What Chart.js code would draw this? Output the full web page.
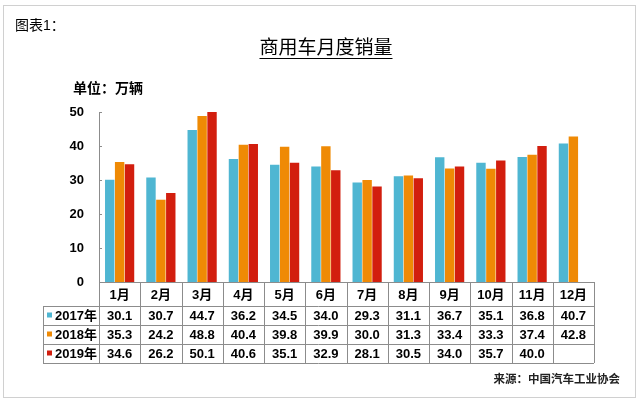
<!DOCTYPE html>
<html>
<head>
<meta charset="utf-8">
<title>商用车月度销量</title>
<script src="https://cdn.jsdelivr.net/npm/chart.js@4.4.1/dist/chart.umd.min.js"></script>
<style>
  body { margin: 0; background: #fff; }
  canvas { display: block; }
</style>
</head>
<body>
<canvas id="chart" width="640" height="403"></canvas>
<script>
// 数据
const categories = ["1月", "2月", "3月", "4月", "5月", "6月", "7月", "8月", "9月", "10月", "11月", "12月"];
const seriesNames = ["2017年", "2018年", "2019年"];
const sales2017 = [30.1, 30.7, 44.7, 36.2, 34.5, 34.0, 29.3, 31.1, 36.7, 35.1, 36.8, 40.7];
const sales2018 = [35.3, 24.2, 48.8, 40.4, 39.8, 39.9, 30.0, 31.3, 33.4, 33.3, 37.4, 42.8];
const sales2019 = [34.6, 26.2, 50.1, 40.6, 35.1, 32.9, 28.1, 30.5, 34.0, 35.7, 40.0, null];
const yTicks = [0, 10, 20, 30, 40, 50];

const colors = ["#4fb6d2", "#ef8a05", "#d21e0e"];
const FONT = "Arial, 'Liberation Sans', 'Noto Sans CJK SC', sans-serif";
const lineColor = "#8c8c8c";

// 画标题、表格等
const tablePlugin = {
  id: "tablePlugin",
  afterDraw(chart) {
    const ctx = chart.ctx;
    const area = chart.chartArea;
    const x = chart.scales.x;
    const y = chart.scales.y;
    const all = [sales2017, sales2018, sales2019];

    ctx.save();
    // 外框
    ctx.strokeStyle = "#d0d0d0";
    ctx.lineWidth = 1;
    ctx.strokeRect(3.5, 5.5, 632, 392);

    ctx.fillStyle = "#000";
    ctx.textBaseline = "middle";
    ctx.textAlign = "left";
    ctx.font = "14px " + FONT;
    ctx.fillText("图表1：", 15, 26);

    ctx.font = "19px " + FONT;
    ctx.textAlign = "center";
    const title = "商用车月度销量";
    ctx.fillText(title, 326, 49);
    const tw = ctx.measureText(title).width;
    ctx.fillRect(326 - tw / 2, 58, tw, 1);

    ctx.textAlign = "left";
    ctx.font = "bold 14px " + FONT;
    ctx.fillText("单位：万辆", 73, 89);

    ctx.font = "bold 11.5px " + FONT;
    ctx.fillStyle = "#222";
    ctx.textAlign = "right";
    ctx.fillText("来源：中国汽车工业协会", 620, 380);
    ctx.fillStyle = "#000";

    // y轴小刻度
    ctx.strokeStyle = lineColor;
    ctx.beginPath();
    yTicks.forEach(v => {
      const py = Math.round(y.getPixelForValue(v)) + 0.5;
      ctx.moveTo(area.left, py);
      ctx.lineTo(area.left + 3, py);
    });
    ctx.stroke();

    // 表格
    const top = area.bottom;
    const headH = 24;
    const rowH = 19;
    const tableLeft = 43;
    const bottom = top + headH + rowH * 3;
    const catW = (area.right - area.left) / categories.length;

    ctx.beginPath();
    // 横线
    const hl = (py, x0) => { ctx.moveTo(x0, Math.round(py) + 0.5); ctx.lineTo(area.right, Math.round(py) + 0.5); };
    hl(top, area.left);
    for (let r = 0; r <= 3; r++) hl(top + headH + rowH * r, tableLeft);
    // 竖线
    const vl = (px, y0) => { ctx.moveTo(Math.round(px) + 0.5, y0); ctx.lineTo(Math.round(px) + 0.5, bottom); };
    vl(tableLeft, top + headH);
    for (let i = 0; i <= categories.length; i++) vl(area.left + catW * i, top);
    ctx.stroke();

    ctx.textAlign = "center";
    ctx.font = "bold 13px " + FONT;
    ctx.fillStyle = "#000";
    categories.forEach((c, i) => {
      const cx = x.getPixelForValue(i);
      ctx.fillText(c, cx, top + headH / 2 + 1);
      all.forEach((arr, r) => {
        const v = arr[i];
        if (v !== null && v !== undefined) {
          ctx.fillText(v.toFixed(1), cx, top + headH + rowH * r + rowH / 2 + 1);
        }
      });
    });

    // 图例
    seriesNames.forEach((n, r) => {
      const cy = top + headH + rowH * r + rowH / 2;
      ctx.fillStyle = colors[r];
      ctx.fillRect(47, cy - 3, 5, 5);
      ctx.fillStyle = "#000";
      ctx.textAlign = "left";
      ctx.fillText(n, 55, cy + 1);
    });
    ctx.restore();
  }
};

new Chart(document.getElementById("chart"), {
  type: "bar",
  data: {
    labels: categories,
    datasets: [
      { label: seriesNames[0], data: sales2017, backgroundColor: colors[0] },
      { label: seriesNames[1], data: sales2018, backgroundColor: colors[1] },
      { label: seriesNames[2], data: sales2019, backgroundColor: colors[2] }
    ]
  },
  options: {
    responsive: false,
    animation: false,
    devicePixelRatio: 1,
    layout: { padding: { left: 0, right: 46, top: 112, bottom: 121 } },
    datasets: { bar: { categoryPercentage: 0.72, barPercentage: 0.95 } },
    plugins: { legend: { display: false }, title: { display: false }, tooltip: { enabled: false } },
    scales: {
      x: { display: false },
      y: {
        min: 0,
        max: 50,
        afterFit: s => { s.width = 99; },
        afterBuildTicks: s => { s.ticks = yTicks.map(v => ({ value: v })); },
        grid: { display: false, drawTicks: false },
        border: { display: true, color: lineColor, width: 1 },
        ticks: { color: "#000", padding: 15, font: { family: FONT, size: 13, weight: "bold" } }
      }
    }
  },
  plugins: [tablePlugin]
});
</script>
</body>
</html>
